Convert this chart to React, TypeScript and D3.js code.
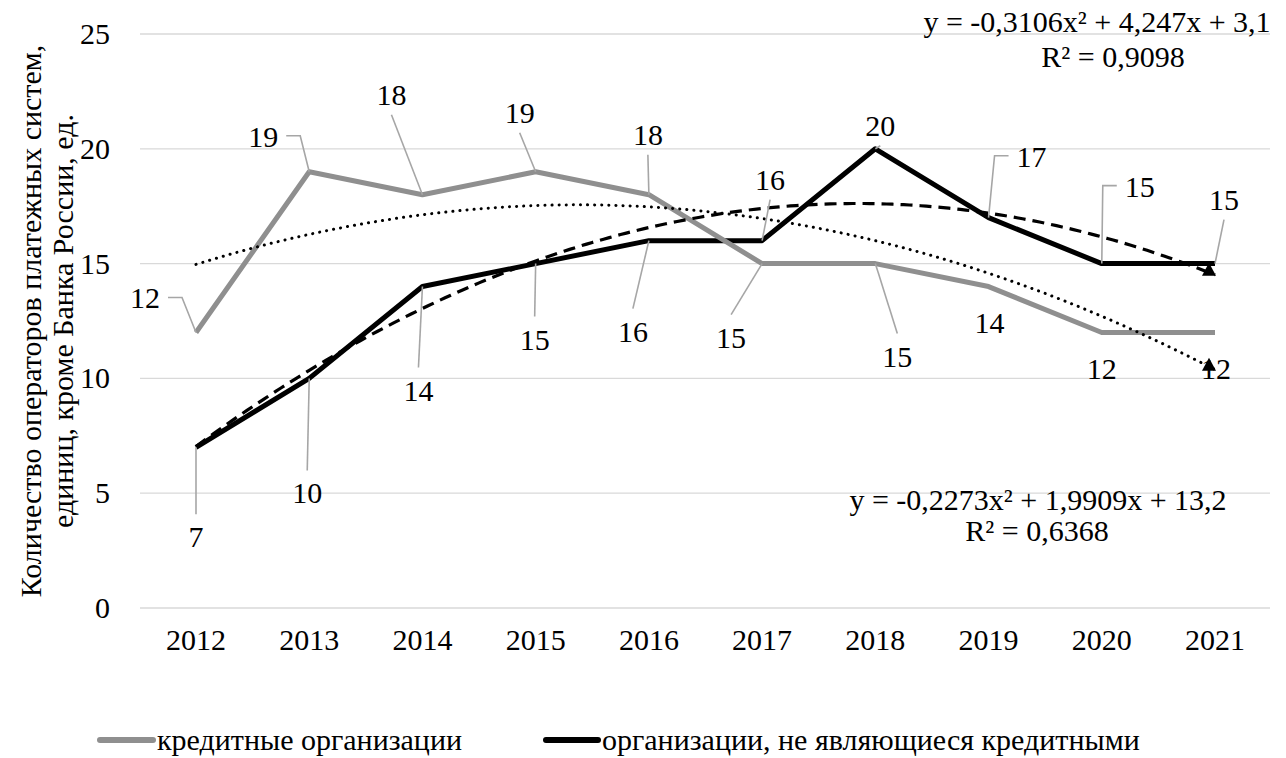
import React from 'react';
import * as d3 from 'd3';

const years = ['2012', '2013', '2014', '2015', '2016', '2017', '2018', '2019', '2020', '2021'];
const creditOrgs = [12, 19, 18, 19, 18, 15, 15, 14, 12, 12];
const nonCreditOrgs = [7, 10, 14, 15, 16, 16, 20, 17, 15, 15];
const yTicks = [0, 5, 10, 15, 20, 25];

// polynomial trend coefficients as printed on the chart (a, b, c)
const trendCredit = [-0.2273, 1.9909, 13.2];
const trendNonCredit = [-0.3106, 4.247, 3.1];
const eqCredit = ['y = -0,2273x² + 1,9909x + 13,2', 'R² = 0,6368'];
const eqNonCredit = ['y = -0,3106x² + 4,247x + 3,1', 'R² = 0,9098'];

const seriesNames = ['кредитные организации', 'организации, не являющиеся кредитными'];
const yTitle = ['Количество операторов платежных систем,', 'единиц, кроме Банка России, ед.'];

// label placement relative to its point: [dx, dy, leader type]
const creditLabelPos: [number, number, string | null][] = [
  [-51, -34, 'elbow'], [-46, -35, 'elbow'], [-31, -100, 'line'], [-16, -59, 'line'], [-1, -60, 'line'],
  [-31, 74, 'line'], [22, 93, 'line'], [1, 36, null], [0, 37, null], [1, 37, null],
];
const nonCreditLabelPos: [number, number, string | null][] = [
  [0, 90, 'line'], [-2, 115, 'line'], [-4, 104, 'line'], [-1, 76, 'line'], [-16, 91, 'line'],
  [8, -61, 'line'], [5, -23, 'line'], [43, -61, 'elbow'], [38, -77, 'elbow'], [9, -64, 'line'],
];

const W = 1286;
const H = 758;
const FS = 30;
const GRAY = '#8f8f8f';
const LEADER = '#a6a6a6';

const x = d3.scalePoint<string>().domain(years).range([196, 1215]);
const y = d3.scaleLinear().domain([0, 25]).range([608, 34]);
const xt = d3.scaleLinear().domain([1, years.length]).range([196, 1215]);

const line = d3.line<number>()
  .x((d, i) => x(years[i]) as number)
  .y(d => y(d));

const trendPath = (c: number[]) => {
  const pts = d3.range(1, years.length + 0.001, 0.05).map(t => [xt(t), y(c[0] * t * t + c[1] * t + c[2])] as [number, number]);
  return { d: d3.line()(pts) as string, end: pts[pts.length - 1] };
};

const leaderPath = (px: number, py: number, lx: number, ly: number, kind: string | null) => {
  if (!kind) return null;
  if (kind === 'elbow') {
    const side = lx < px ? 1 : -1;
    return `M${lx + side * 23},${ly - 1}L${lx + side * 37},${ly - 1}L${px},${py}`;
  }
  const sy = ly + (ly > py ? -23 : 20);
  return `M${lx},${sy}L${px},${py}`;
};

// text vertically centred on (x, y)
const T = ({ x: tx, y: ty, anchor = 'middle', children, transform }: any) => (
  <text x={tx} y={ty + 10} fontSize={FS} fontFamily="Times New Roman" textAnchor={anchor} transform={transform}>{children}</text>
);

const Labels = ({ values, pos }: { values: number[]; pos: [number, number, string | null][] }) => (
  <g>
    {values.map((v, i) => {
      const px = x(years[i]) as number;
      const py = y(v);
      const [dx, dy, kind] = pos[i];
      const lp = leaderPath(px, py, px + dx, py + dy, kind);
      return (
        <g key={i}>
          {lp && <path d={lp} fill="none" stroke={LEADER} strokeWidth={1.6} />}
          <T x={px + dx} y={py + dy}>{String(v)}</T>
        </g>
      );
    })}
  </g>
);

const Triangle = ({ at }: { at: [number, number] }) => {
  const [ex, ey] = at;
  const cx = ex - 6;
  return <path d={`M${cx - 7},${ey + 1}L${cx + 7},${ey + 1}L${cx},${ey - 12}Z`} fill="#000" />;
};

export default function App() {
  const tc = trendPath(trendCredit);
  const tn = trendPath(trendNonCredit);
  return (
    <svg width={W} height={H} style={{ position: 'absolute', left: 0, top: 0 }}>
      {/* grid */}
      {yTicks.map(t => (
        <g key={t}>
          <line x1={140} x2={1270} y1={y(t)} y2={y(t)} stroke="#d9d9d9" strokeWidth={1.3} />
          <T x={110} y={y(t)} anchor="end">{String(t)}</T>
        </g>
      ))}
      {years.map(yr => (
        <T key={yr} x={x(yr)} y={640}>{yr}</T>
      ))}

      {/* y title */}
      {yTitle.map((t, i) => (
        <T key={i} x={0} y={0} transform={`translate(${31 + i * 32},321) rotate(-90)`}>{t}</T>
      ))}

      {/* series */}
      <path d={line(nonCreditOrgs) as string} fill="none" stroke="#000" strokeWidth={5} strokeLinejoin="round" />
      <path d={line(creditOrgs) as string} fill="none" stroke={GRAY} strokeWidth={5} strokeLinejoin="round" />

      {/* trends */}
      <path d={tc.d} fill="none" stroke="#000" strokeWidth={3} strokeDasharray="0.1 7" strokeLinecap="round" />
      <path d={tn.d} fill="none" stroke="#000" strokeWidth={3.2} strokeDasharray="12 7" />
      <Triangle at={tc.end} />
      <Triangle at={tn.end} />

      {/* data labels */}
      <Labels values={creditOrgs} pos={creditLabelPos} />
      <Labels values={nonCreditOrgs} pos={nonCreditLabelPos} />

      {/* trend equations */}
      <T x={1097} y={22}>{eqNonCredit[0]}</T>
      <T x={1113} y={57}>{eqNonCredit[1]}</T>
      <T x={1038} y={500}>{eqCredit[0]}</T>
      <T x={1037} y={531}>{eqCredit[1]}</T>

      {/* legend */}
      <line x1={100} x2={153} y1={740} y2={740} stroke={GRAY} strokeWidth={6} strokeLinecap="round" />
      <T x={157} y={740} anchor="start">{seriesNames[0]}</T>
      <line x1={546} x2={598} y1={740} y2={740} stroke="#000" strokeWidth={6} strokeLinecap="round" />
      <T x={602} y={740} anchor="start">{seriesNames[1]}</T>
    </svg>
  );
}
